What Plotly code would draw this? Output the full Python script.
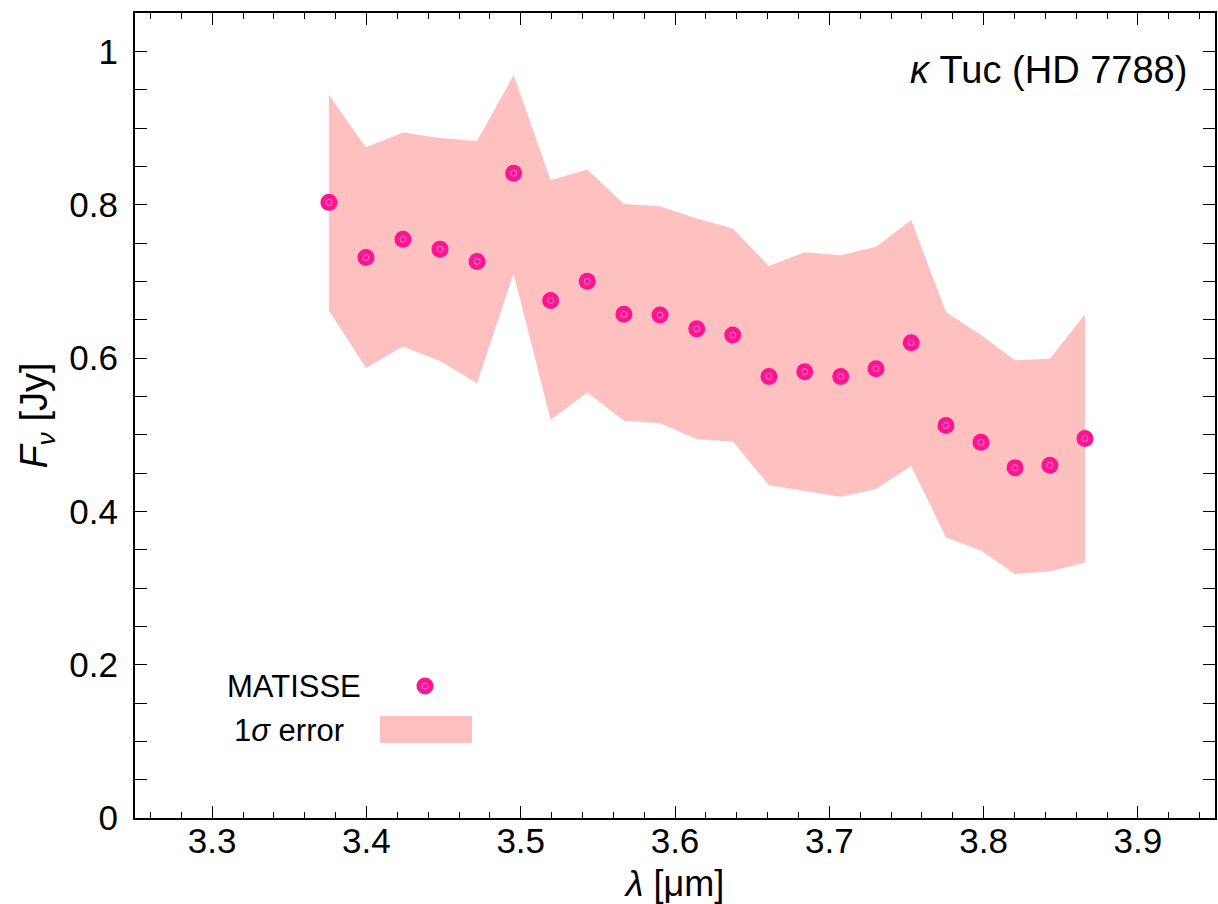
import plotly.graph_objects as go

# Data
wavelength = [3.3757, 3.3997, 3.4237, 3.4477, 3.4717, 3.4954, 3.5194, 3.5431,
              3.5669, 3.5903, 3.6141, 3.6374, 3.6609, 3.6841, 3.7074, 3.7303,
              3.7531, 3.7756, 3.7983, 3.8204, 3.8430, 3.8657]
flux = [0.803, 0.731, 0.755, 0.742, 0.726, 0.841, 0.675, 0.700,
        0.657, 0.656, 0.638, 0.630, 0.576, 0.582, 0.576, 0.586,
        0.620, 0.512, 0.490, 0.457, 0.460, 0.495]
flux_upper = [0.943, 0.875, 0.894, 0.887, 0.883, 0.969, 0.832, 0.846,
              0.801, 0.798, 0.782, 0.769, 0.720, 0.738, 0.734, 0.745,
              0.780, 0.660, 0.630, 0.597, 0.599, 0.657]
flux_lower = [0.662, 0.587, 0.615, 0.596, 0.567, 0.710, 0.519, 0.555,
              0.518, 0.515, 0.494, 0.491, 0.434, 0.427, 0.419, 0.429,
              0.459, 0.366, 0.349, 0.318, 0.322, 0.333]

MARKER = "#FF1493"
INNER = "#FF80C8"
BAND = "#FFC0C0"
FONT = "Liberation Sans"
FS = 35

fig = go.Figure()
fig.add_trace(go.Scatter(x=wavelength, y=flux_lower, mode="lines",
                         line=dict(width=0, color=BAND), showlegend=False,
                         hoverinfo="skip"))
fig.add_trace(go.Scatter(x=wavelength, y=flux_upper, mode="lines",
                         line=dict(width=0, color=BAND), fill="tonexty",
                         fillcolor=BAND, showlegend=False, hoverinfo="skip"))
fig.add_trace(go.Scatter(x=wavelength, y=flux, mode="markers",
                         marker=dict(size=17, color=MARKER, line=dict(width=0)),
                         showlegend=False))
fig.add_trace(go.Scatter(x=wavelength, y=flux, mode="markers",
                         marker=dict(size=6, symbol="circle-open",
                                     color=INNER, line=dict(width=1, color=INNER)),
                         showlegend=False, hoverinfo="skip"))

# plot-area geometry in pixels (for legend placement in paper coords)
L, R, T, B = 135, 1215, 13, 818
W, H = R - L, B - T
def px(xp):
    return (xp - L) / W
def py(yp):
    return (B - yp) / H

shapes = [
    # legend marker
    dict(type="circle", xref="paper", yref="paper",
         x0=px(425 - 8.5), x1=px(425 + 8.5), y0=py(686 + 8.5), y1=py(686 - 8.5),
         fillcolor=MARKER, line=dict(width=0)),
    dict(type="circle", xref="paper", yref="paper",
         x0=px(425 - 3), x1=px(425 + 3), y0=py(686 + 3), y1=py(686 - 3),
         fillcolor="rgba(0,0,0,0)", line=dict(width=1, color=INNER)),
    # legend band swatch
    dict(type="rect", xref="paper", yref="paper",
         x0=px(380), x1=px(472), y0=py(743), y1=py(716),
         fillcolor=BAND, line=dict(width=0)),
]

annotations = [
    dict(text="<i>κ</i> Tuc (HD 7788)", xref="paper", yref="paper",
         x=px(1189), y=py(70), xanchor="right", yanchor="middle",
         showarrow=False, font=dict(family=FONT, size=38, color="black")),
    dict(text="MATISSE", xref="paper", yref="paper",
         x=px(363), y=py(686), xanchor="right", yanchor="middle",
         showarrow=False, font=dict(family=FONT, size=31, color="black")),
    dict(text="1<i>σ</i> error", xref="paper", yref="paper",
         x=px(346), y=py(730), xanchor="right", yanchor="middle",
         showarrow=False, font=dict(family=FONT, size=31, color="black")),
]

fig.update_layout(
    width=1218, height=904,
    margin=dict(l=L, r=1218 - R, t=T, b=904 - B, autoexpand=False),
    paper_bgcolor="white", plot_bgcolor="white",
    font=dict(family=FONT, size=FS, color="black"),
    shapes=shapes, annotations=annotations,
    showlegend=False,
)
fig.update_xaxes(
    range=[3.25, 3.95], tick0=3.3, dtick=0.1,
    ticks="inside", ticklen=12, tickwidth=1, tickcolor="black",
    minor=dict(dtick=0.02, ticks="inside", ticklen=6, tickwidth=1, tickcolor="black"),
    showline=True, linewidth=2, linecolor="black", mirror="ticks",
    showgrid=False, zeroline=False, ticklabelstandoff=-9, automargin=False,
    title=dict(text="<i>λ</i> [μm]", standoff=14, font=dict(size=36)),
)
fig.update_yaxes(
    range=[0, 1.05], tick0=0, dtick=0.2,
    ticks="inside", ticklen=12, tickwidth=1, tickcolor="black",
    minor=dict(dtick=0.05, ticks="inside", ticklen=12, tickwidth=1, tickcolor="black"),
    showline=True, linewidth=2, linecolor="black", mirror="ticks",
    showgrid=False, zeroline=False, ticklabelstandoff=8, automargin=False,
    title=dict(text="<i>F</i><sub><i>ν</i></sub> [Jy]", standoff=10, font=dict(size=38)),
)

fig.write_html("out.html")
